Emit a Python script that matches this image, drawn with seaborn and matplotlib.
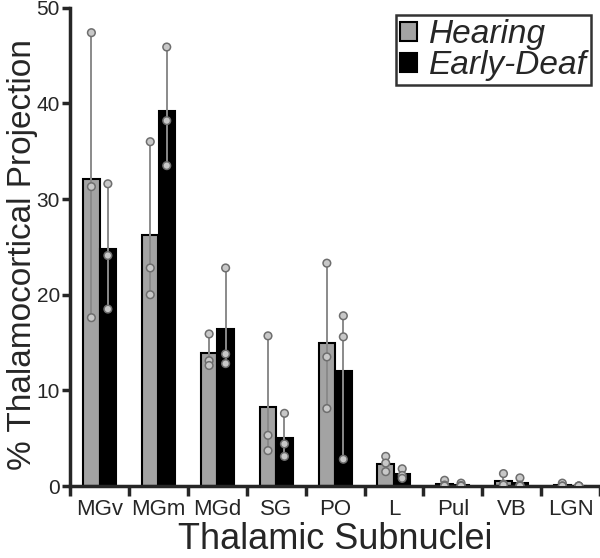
import numpy as np
import pandas as pd
import matplotlib
matplotlib.use("Agg")
import matplotlib.pyplot as plt
import seaborn as sns

# per-animal values (% thalamocortical projection)
nuclei = ['MGv', 'MGm', 'MGd', 'SG', 'PO', 'L', 'Pul', 'VB', 'LGN']
groups = ['Hearing', 'Early-Deaf']

hearing = [
    [47.4, 31.3, 17.6],
    [36.0, 22.8, 20.0],
    [15.9, 13.1, 12.6],
    [15.7, 5.3, 3.7],
    [23.3, 13.5, 8.1],
    [3.1, 2.4, 1.5],
    [0.6, 0.1, 0.0],
    [1.3, 0.2, 0.1],
    [0.3, 0.0, 0.0],
]
early_deaf = [
    [31.6, 24.1, 18.5],
    [45.9, 38.2, 33.5],
    [22.8, 13.8, 12.8],
    [7.6, 4.4, 3.1],
    [17.8, 15.6, 2.8],
    [1.8, 1.1, 0.8],
    [0.3, 0.05, 0.0],
    [0.85, 0.1, 0.0],
    [0.0, 0.0, 0.0],
]

rows = []
for g, vals in zip(groups, [hearing, early_deaf]):
    for n, pts in zip(nuclei, vals):
        for v in pts:
            rows.append({'Nucleus': n, 'Group': g, 'Value': v})
df = pd.DataFrame(rows)

sns.set_theme(style="ticks")
plt.rcParams['font.family'] = ['Liberation Sans', 'DejaVu Sans']

fig = plt.figure(figsize=(6, 5.58), dpi=100)
ax = fig.add_axes([0.117, 0.129, 0.883, 0.857])

bar_w = 0.56
pal = {'Hearing': '#a3a3a3', 'Early-Deaf': '#000000'}
sns.barplot(data=df, x='Nucleus', y='Value', hue='Group', order=nuclei, hue_order=groups,
            palette=pal, estimator='mean', errorbar=('pi', 100), width=bar_w,
            edgecolor='black', linewidth=1.5, saturation=1,
            err_kws={'color': '#8a8a8a', 'linewidth': 1.4}, ax=ax)
handles, labels = ax.get_legend_handles_labels()

n_before = len(ax.collections)
sns.stripplot(data=df, x='Nucleus', y='Value', hue='Group', order=nuclei, hue_order=groups,
              dodge=True, jitter=False, palette={'Hearing': '#c8c8c8', 'Early-Deaf': '#c8c8c8'},
              edgecolor='#6e6e6e', linewidth=1.1, size=5.5, legend=False, ax=ax, zorder=5)
# stripplot dodges with width 0.8; pull points onto the narrower bars
for coll in ax.collections[n_before:]:
    off = coll.get_offsets()
    if len(off):
        c = np.round(off[:, 0])
        off[:, 0] = c + (off[:, 0] - c) * (bar_w / 0.8)
        coll.set_offsets(off)

ax.set_xlim(-0.5, len(nuclei) - 0.5)
ax.set_ylim(0, 50)
ax.set_yticks([0, 10, 20, 30, 40, 50])
ax.set_xticks(np.arange(-0.5, len(nuclei), 1.0), minor=True)
ax.tick_params(axis='x', which='major', length=0, pad=9)
ax.tick_params(axis='x', which='minor', length=7, width=2.5, direction='out')
ax.tick_params(axis='y', length=6, width=2.5, pad=1.5)
for lab in ax.get_xticklabels():
    lab.set_fontsize(16)
for lab in ax.get_yticklabels():
    lab.set_fontsize(15)

for s in ['top', 'right']:
    ax.spines[s].set_visible(False)
for s in ['left', 'bottom']:
    ax.spines[s].set_linewidth(2.5)

ax.set_xlabel('Thalamic Subnuclei', fontsize=26, labelpad=2)
ax.set_ylabel('% Thalamocortical Projection', fontsize=24)
ax.yaxis.set_label_coords(-0.0604, 0.485)

leg = ax.legend(handles, labels, loc='upper right', bbox_to_anchor=(0.995, 0.998),
                prop={'style': 'italic', 'size': 24}, frameon=True, fancybox=False,
                edgecolor='black', handlelength=0.5, handleheight=0.5,
                handletextpad=0.35, borderpad=0.12, labelspacing=0.0, borderaxespad=0.2)
leg.get_frame().set_linewidth(1.8)

fig.savefig('out.png', dpi=100)
